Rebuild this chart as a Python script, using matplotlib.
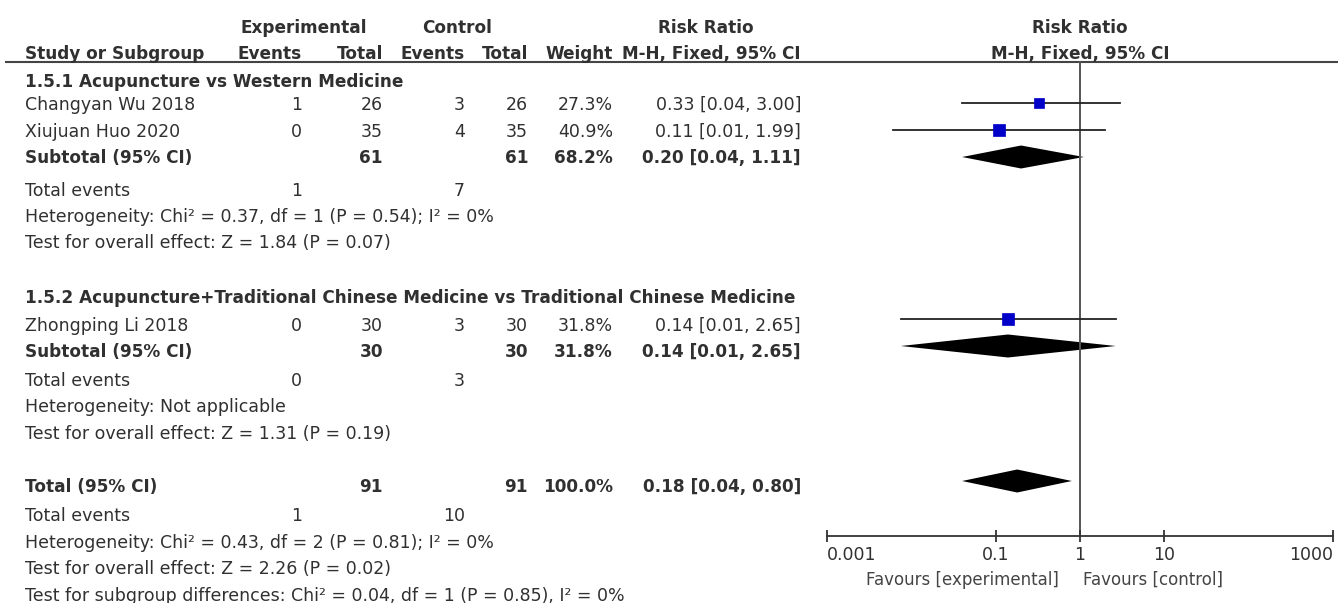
import numpy as np
import matplotlib.pyplot as plt

# study level data
studies = ["Changyan Wu 2018", "Xiujuan Huo 2020", "Zhongping Li 2018"]
exp_events = [1, 0, 0]
exp_total = [26, 35, 30]
ctrl_events = [3, 4, 3]
ctrl_total = [26, 35, 30]
weights = [27.3, 40.9, 31.8]
rr = [0.33, 0.11, 0.14]
rr_lo = [0.04, 0.006, 0.0075]
rr_hi = [3.00, 1.99, 2.65]

# subgroup and overall pooled results
groups = ["1.5.1 Acupuncture vs Western Medicine",
          "1.5.2 Acupuncture+Traditional Chinese Medicine vs Traditional Chinese Medicine"]
sub_exp_total = [61, 30]
sub_ctrl_total = [61, 30]
sub_exp_events = [1, 0]
sub_ctrl_events = [7, 3]
sub_weight = [68.2, 31.8]
sub_rr = [0.20, 0.14]
sub_lo = [0.04, 0.0075]
sub_hi = [1.11, 2.65]
sub_het = ["Heterogeneity: Chi\u00b2 = 0.37, df = 1 (P = 0.54); I\u00b2 = 0%",
           "Heterogeneity: Not applicable"]
sub_test = ["Test for overall effect: Z = 1.84 (P = 0.07)",
            "Test for overall effect: Z = 1.31 (P = 0.19)"]

tot_exp_total, tot_ctrl_total = 91, 91
tot_exp_events, tot_ctrl_events = 1, 10
tot_weight = 100.0
tot_rr, tot_lo, tot_hi = 0.18, 0.04, 0.80
tot_lines = ["Heterogeneity: Chi\u00b2 = 0.43, df = 2 (P = 0.81); I\u00b2 = 0%",
             "Test for overall effect: Z = 2.26 (P = 0.02)",
             "Test for subgroup differences: Chi\u00b2 = 0.04, df = 1 (P = 0.85), I\u00b2 = 0%"]

x_ticks = [0.001, 0.1, 1, 10, 1000]
x_ticklabels = ["0.001", "0.1", "1", "10", "1000"]

TXT = '#303030'
FS = 12.5
FSB = 12.2

W, H = 1338, 603
fig = plt.figure(figsize=(W / 100, H / 100), dpi=100)
ax = fig.add_axes([0, 0, 1, 1])
ax.set_xlim(0, W)
ax.set_ylim(H, 0)
ax.axis('off')


def put(x, y, s, ha='left', bold=False):
    # y is the row centre in pixels, text sits on a baseline just below it
    ax.text(x, y + 6, s, ha=ha, va='baseline', color=TXT,
            fontsize=FSB if bold else FS,
            fontweight='bold' if bold else 'normal')


# column right edges
c_name = 25
c_ee, c_et, c_ce, c_ct, c_w, c_rr = 302, 383, 465, 528, 613, 801

# header
put(304, 27, "Experimental", ha='center', bold=True)
put(457, 27, "Control", ha='center', bold=True)
put(706, 27, "Risk Ratio", ha='center', bold=True)
put(1080, 27, "Risk Ratio", ha='center', bold=True)
put(c_name, 53, "Study or Subgroup", bold=True)
put(c_ee, 53, "Events", ha='right', bold=True)
put(c_et, 53, "Total", ha='right', bold=True)
put(c_ce, 53, "Events", ha='right', bold=True)
put(c_ct, 53, "Total", ha='right', bold=True)
put(c_w, 53, "Weight", ha='right', bold=True)
put(c_rr, 53, "M-H, Fixed, 95% CI", ha='right', bold=True)
put(1080, 53, "M-H, Fixed, 95% CI", ha='center', bold=True)
ax.plot([5, W], [62, 62], color='#444444', lw=1.5, solid_capstyle='butt')

# row layout (text centre, mark centre)
group_rows = [
    dict(title=81, studies=[(0, 104, 103), (1, 131, 130)], sub=(157, 157),
         events=190, het=216, test=242),
    dict(title=297, studies=[(2, 325, 319)], sub=(351, 346),
         events=380, het=406, test=433),
]


def ci_text(m, lo, hi):
    return f"{m:.2f} [{lo:.2f}, {hi:.2f}]"


# forest panel on a log scale
fa = fig.add_axes([827 / W, 0, (1333 - 827) / W, 1])
fa.set_xscale('log')
fa.set_xlim(0.001, 1000)
fa.set_ylim(H, 0)
fa.patch.set_visible(False)

for g, rows in enumerate(group_rows):
    put(c_name, rows['title'], groups[g], bold=True)
    for i, ty, my in rows['studies']:
        put(c_name, ty, studies[i])
        put(c_ee, ty, str(exp_events[i]), ha='right')
        put(c_et, ty, str(exp_total[i]), ha='right')
        put(c_ce, ty, str(ctrl_events[i]), ha='right')
        put(c_ct, ty, str(ctrl_total[i]), ha='right')
        put(c_w, ty, f"{weights[i]:.1f}%", ha='right')
        put(c_rr, ty, ci_text(rr[i], rr_lo[i], rr_hi[i]), ha='right')
        fa.plot([rr_lo[i], rr_hi[i]], [my, my], color='#222222', lw=1.3)
        side = 2.03 * np.sqrt(weights[i])
        fa.plot(rr[i], my, marker='s', ms=side * 0.72, color='#0000C8',
                mec='#0000C8', mew=0.5)
    ty, my = rows['sub']
    put(c_name, ty, "Subtotal (95% CI)", bold=True)
    put(c_et, ty, str(sub_exp_total[g]), ha='right', bold=True)
    put(c_ct, ty, str(sub_ctrl_total[g]), ha='right', bold=True)
    put(c_w, ty, f"{sub_weight[g]:.1f}%", ha='right', bold=True)
    put(c_rr, ty, ci_text(sub_rr[g], sub_lo[g], sub_hi[g]), ha='right', bold=True)
    fa.fill([sub_lo[g], sub_rr[g], sub_hi[g], sub_rr[g]],
            [my, my - 11.5, my, my + 11.5], color='black', lw=0)
    put(c_name, rows['events'], "Total events")
    put(c_ee, rows['events'], str(sub_exp_events[g]), ha='right')
    put(c_ce, rows['events'], str(sub_ctrl_events[g]), ha='right')
    put(c_name, rows['het'], sub_het[g])
    put(c_name, rows['test'], sub_test[g])

# overall
put(c_name, 486, "Total (95% CI)", bold=True)
put(c_et, 486, str(tot_exp_total), ha='right', bold=True)
put(c_ct, 486, str(tot_ctrl_total), ha='right', bold=True)
put(c_w, 486, f"{tot_weight:.1f}%", ha='right', bold=True)
put(c_rr, 486, ci_text(tot_rr, tot_lo, tot_hi), ha='right', bold=True)
fa.fill([tot_lo, tot_rr, tot_hi, tot_rr], [481, 469.5, 481, 492.5],
        color='black', lw=0)
put(c_name, 515, "Total events")
put(c_ee, 515, str(tot_exp_events), ha='right')
put(c_ce, 515, str(tot_ctrl_events), ha='right')
for k, s in enumerate(tot_lines):
    put(c_name, 542 + 26.5 * k, s)

# line of no effect
fa.plot([1, 1], [62, 536], color='#555555', lw=1.4, zorder=1)

# x axis drawn at the bottom of the forest panel
for side in ['top', 'left', 'right']:
    fa.spines[side].set_visible(False)
fa.spines['bottom'].set_position(('data', 536))
fa.spines['bottom'].set_color('#333333')
fa.spines['bottom'].set_linewidth(1.3)
fa.set_yticks([])
fa.set_xticks(x_ticks)
fa.set_xticklabels(x_ticklabels)
fa.xaxis.set_minor_locator(plt.NullLocator())
fa.tick_params(axis='x', direction='inout', length=9, width=1.3,
               color='#333333', labelsize=FS, labelcolor=TXT, pad=3)
labels = fa.get_xticklabels()
labels[0].set_ha('left')
labels[-1].set_ha('right')

fa.text(0.56, 580, "Favours [experimental]", ha='right', va='center',
        fontsize=12, color='#444444')
fa.text(1.08, 580, "Favours [control]", ha='left', va='center',
        fontsize=12, color='#444444')

fig.savefig("out.png", dpi=100)
